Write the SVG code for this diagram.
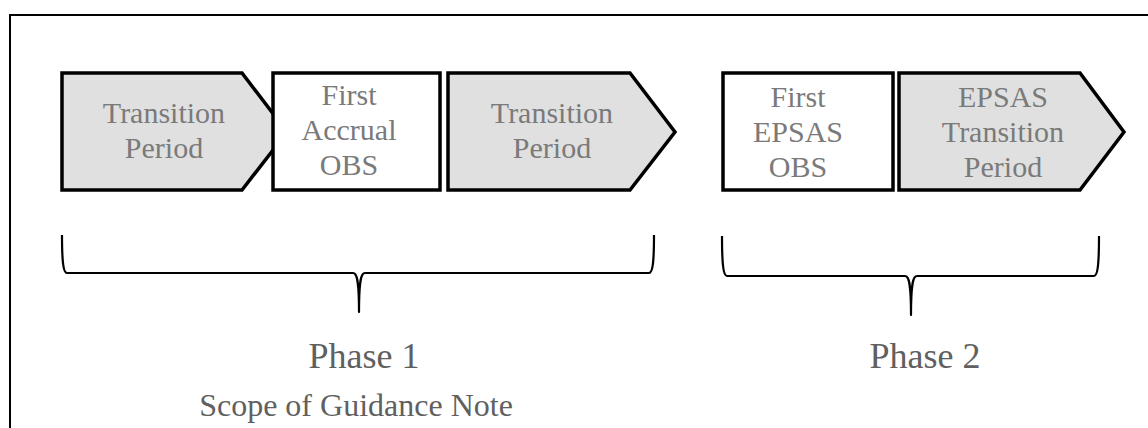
<svg xmlns="http://www.w3.org/2000/svg" width="1148" height="428" viewBox="0 0 1148 428">
<style>
.shape{stroke:#000;stroke-width:3.5;stroke-linejoin:miter}
.grey{fill:#e0e0e0}
.white{fill:#fff}
.lbl{font-size:30px;fill:#7a7a7a;text-anchor:middle}
.phase{font-size:36px;fill:#606060;text-anchor:middle}
.scope{font-size:32px;fill:#606060;text-anchor:middle}
.brace{fill:none;stroke:#000;stroke-width:2.2;stroke-linejoin:round}
</style>
<rect width="1148" height="428" fill="#fff"/>
<path d="M10,428 L10,15 L1148,15" fill="none" stroke="#000" stroke-width="2"/>
<g font-family="Liberation Serif, serif">
<g id="tp1">
<path class="shape grey" d="M62,73 L242,73 L287,132 L242,190 L62,190 Z"/>
<text class="lbl" x="164" y="123">Transition</text>
<text class="lbl" x="164" y="158">Period</text>
</g>
<g id="accrual">
<rect class="shape white" x="273" y="73" width="167" height="117"/>
<text class="lbl" x="349" y="105">First</text>
<text class="lbl" x="349" y="140">Accrual</text>
<text class="lbl" x="349" y="175">OBS</text>
</g>
<g id="tp2">
<path class="shape grey" d="M448,73 L630,73 L675,132 L630,190 L448,190 Z"/>
<text class="lbl" x="552" y="123">Transition</text>
<text class="lbl" x="552" y="158">Period</text>
</g>
<g id="epsasobs">
<rect class="shape white" x="723" y="73" width="170" height="117"/>
<text class="lbl" x="798" y="107">First</text>
<text class="lbl" x="798" y="142">EPSAS</text>
<text class="lbl" x="798" y="177">OBS</text>
</g>
<g id="epsastp">
<path class="shape grey" d="M899,73 L1080,73 L1124,132 L1080,190 L899,190 Z"/>
<text class="lbl" x="1003" y="107">EPSAS</text>
<text class="lbl" x="1003" y="142">Transition</text>
<text class="lbl" x="1003" y="177">Period</text>
</g>
<g id="connectors">
<path class="brace" d="M62,235 C62,260 63,273 67,273 L353,273 C357,273 359,280 359,312 C359,280 361,273 365,273 L649,273 C653,273 654,260 654,235"/>
<path class="brace" d="M722,236 C722,262 723,276 727,276 L905,276 C909,276 911,283 911,315 C911,283 913,276 917,276 L1094,276 C1098,276 1099,262 1099,236"/>
</g>
<g id="phase1">
<text class="phase" x="364" y="368">Phase 1</text>
<text class="scope" x="356" y="416">Scope of Guidance Note</text>
</g>
<g id="phase2">
<text class="phase" x="925" y="368">Phase 2</text>
</g>
</g>
</svg>
